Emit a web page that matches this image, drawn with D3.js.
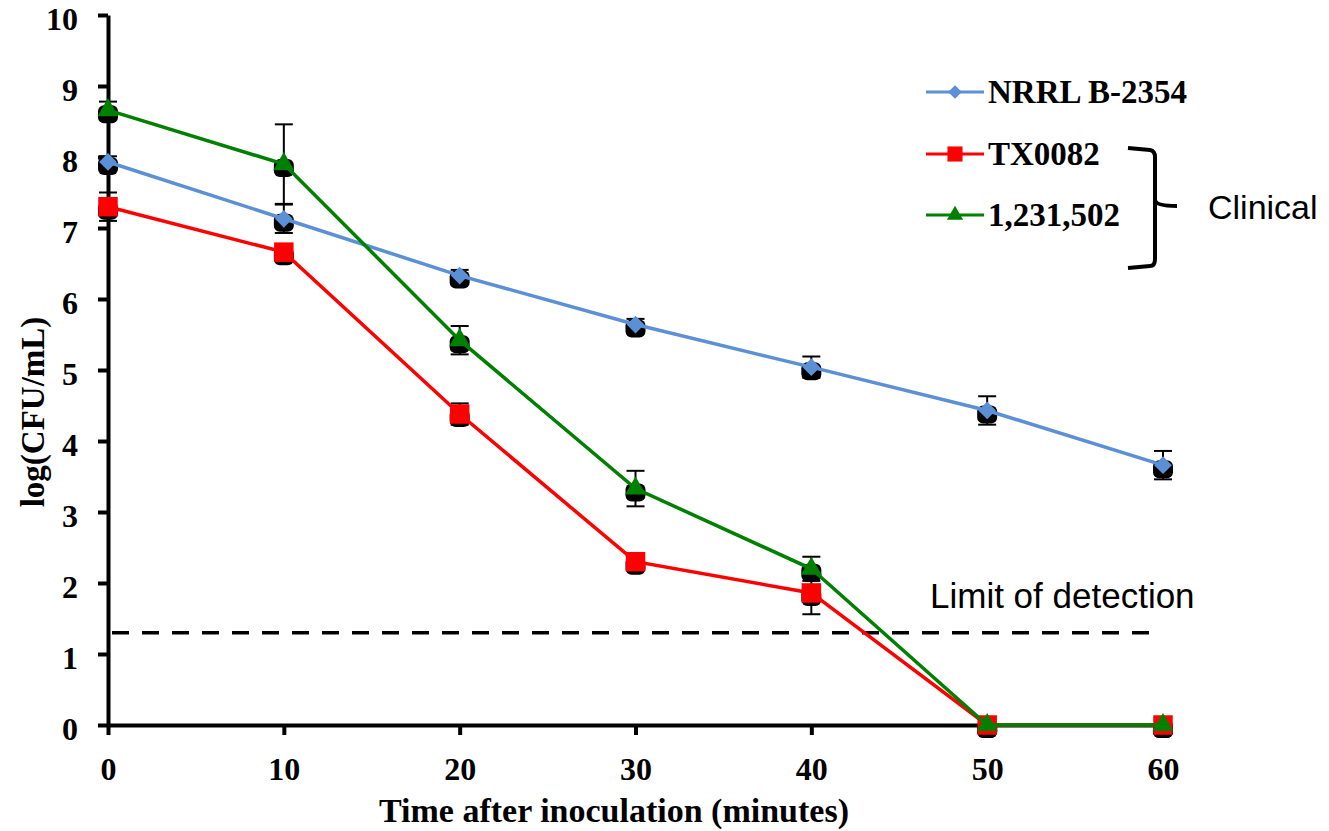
<!DOCTYPE html>
<html>
<head>
<meta charset="utf-8">
<script src="https://cdn.jsdelivr.net/npm/d3@7"></script>
<style>
	body { margin: 0; background: #fff; }
	svg { display: block; }
	.serif { font-family: "Liberation Serif", "Times New Roman", serif; font-weight: bold; }
	.sans { font-family: "Liberation Sans", Arial, sans-serif; }
</style>
</head>
<body>
<div id="chart"></div>
<script>
const times = [0, 10, 20, 30, 40, 50, 60];
const xTicks = [0, 10, 20, 30, 40, 50, 60];
const yTicks = [0, 1, 2, 3, 4, 5, 6, 7, 8, 9, 10];

const nrrlValues = [7.93, 7.13, 6.33, 5.64, 5.04, 4.43, 3.66];
const nrrlErrors = [0.08, 0.2, 0.08, 0.08, 0.15, 0.2, 0.2];
const tx0082Values = [7.30, 6.66, 4.38, 2.30, 1.86, 0, 0];
const tx0082Errors = [0.2, 0.08, 0.15, 0.08, 0.3, 0, 0];
const clinValues = [8.66, 7.90, 5.42, 3.33, 2.20, 0, 0];
const clinErrors = [0.12, 0.56, 0.2, 0.25, 0.17, 0, 0];

const limitOfDetection = 1.3;

const diamond = d3.symbolDiamond2 || d3.symbolDiamond;
const series = [
	{ name: 'NRRL B-2354', values: nrrlValues, errors: nrrlErrors, color: '#5b8fd6', symbol: diamond, size: 200 },
	{ name: 'TX0082', values: tx0082Values, errors: tx0082Errors, color: '#ff0000', symbol: d3.symbolSquare, size: 380 },
	{ name: '1,231,502', values: clinValues, errors: clinErrors, color: '#008000', symbol: d3.symbolTriangle, size: 190 }
];

const width = 1329, height = 831;
const margin = { left: 108, right: 166, top: 15, bottom: 106 };

const svg = d3.select('#chart').append('svg')
	.attr('width', width)
	.attr('height', height);

const xScale = d3.scaleLinear()
	.domain([0, 60])
	.range([margin.left, width - margin.right]);

const yScale = d3.scaleLinear()
	.domain([0, 10])
	.range([height - margin.bottom, margin.top]);

// limit of detection
svg.append('line')
	.attr('x1', xScale(0) + 4).attr('x2', xScale(59.6))
	.attr('y1', yScale(limitOfDetection)).attr('y2', yScale(limitOfDetection))
	.attr('stroke', '#000').attr('stroke-width', 3.5)
	.attr('stroke-dasharray', '17,13');

svg.append('text').attr('class', 'sans')
	.attr('x', 930).attr('y', 608)
	.attr('font-size', 35)
	.text('Limit of detection');

// axes
const xAxis = svg.append('g')
	.attr('transform', `translate(0, ${yScale(0)})`)
	.call(d3.axisBottom(xScale).tickValues(xTicks).tickSize(10).tickPadding(22).tickSizeOuter(0));

const yAxis = svg.append('g')
	.attr('transform', `translate(${xScale(0)}, 0)`)
	.call(d3.axisLeft(yScale).tickValues(yTicks).tickSize(10).tickPadding(20).tickSizeOuter(0));

[xAxis, yAxis].forEach(g => {
	g.select('.domain').attr('stroke', '#000').attr('stroke-width', 4);
	g.selectAll('.tick line').attr('stroke', '#000').attr('stroke-width', 4);
	g.selectAll('.tick text')
		.attr('class', 'serif')
		.attr('font-size', 32)
		.attr('fill', '#000');
});
yAxis.selectAll('.tick text').attr('dy', '0.45em');

svg.append('text').attr('class', 'serif')
	.attr('x', 614)
	.attr('y', 822)
	.attr('text-anchor', 'middle')
	.attr('font-size', 34)
	.text('Time after inoculation (minutes)');

svg.append('text').attr('class', 'serif')
	.attr('transform', `translate(44, 412) rotate(-90)`)
	.attr('text-anchor', 'middle')
	.attr('font-size', 33)
	.text('log(CFU/mL)');

const line = d3.line()
	.x((d, i) => xScale(times[i]))
	.y(d => yScale(d));

// dark backing under each marker, then error bars
series.forEach(s => {
	const g = svg.append('g');
	s.values.forEach((v, i) => {
		const x = xScale(times[i]);
		const y = yScale(v);
		g.append('rect')
			.attr('x', x - 10).attr('y', y - 5)
			.attr('width', 20).attr('height', 18)
			.attr('rx', 6)
			.attr('fill', '#000');
		if (s.errors[i] > 0) {
			const y1 = yScale(v + s.errors[i]);
			const y2 = yScale(v - s.errors[i]);
			g.append('line')
				.attr('x1', x).attr('x2', x).attr('y1', y1).attr('y2', y2)
				.attr('stroke', '#000').attr('stroke-width', 2);
			[y1, y2].forEach(yy => g.append('line')
				.attr('x1', x - 9).attr('x2', x + 9).attr('y1', yy).attr('y2', yy)
				.attr('stroke', '#000').attr('stroke-width', 2));
		}
	});
});

series.forEach(s => {
	svg.append('path')
		.attr('d', line(s.values))
		.attr('fill', 'none')
		.attr('stroke', s.color)
		.attr('stroke-width', 3.5);
	svg.selectAll(null)
		.data(s.values)
		.join('path')
		.attr('transform', (d, i) => `translate(${xScale(times[i])}, ${yScale(d)})`)
		.attr('d', d3.symbol(s.symbol, s.size))
		.attr('fill', s.color);
});

// legend
const legendRows = [92, 154, 215];
series.forEach((s, i) => {
	const g = svg.append('g').attr('transform', `translate(926, ${legendRows[i]})`);
	g.append('line')
		.attr('x1', 0).attr('x2', 58)
		.attr('stroke', s.color).attr('stroke-width', 3);
	g.append('path')
		.attr('transform', 'translate(29, 0)')
		.attr('d', d3.symbol(s.symbol, s.size * 0.6))
		.attr('fill', s.color);
	g.append('text').attr('class', 'serif')
		.attr('x', 62).attr('dy', '0.34em')
		.attr('font-size', 33)
		.text(s.name);
});

// bracket grouping the clinical isolates
svg.append('path')
	.attr('d', 'M1128,148 L1150,150 Q1155,151 1155,157 L1155,200 Q1156,206 1177,206 M1155,200 Q1155,206 1155,212 L1155,259 Q1155,266 1150,266 L1128,268')
	.attr('fill', 'none')
	.attr('stroke', '#000')
	.attr('stroke-width', 4);

svg.append('text').attr('class', 'sans')
	.attr('x', 1208).attr('y', 219)
	.attr('font-size', 34)
	.text('Clinical');
</script>
</body>
</html>
